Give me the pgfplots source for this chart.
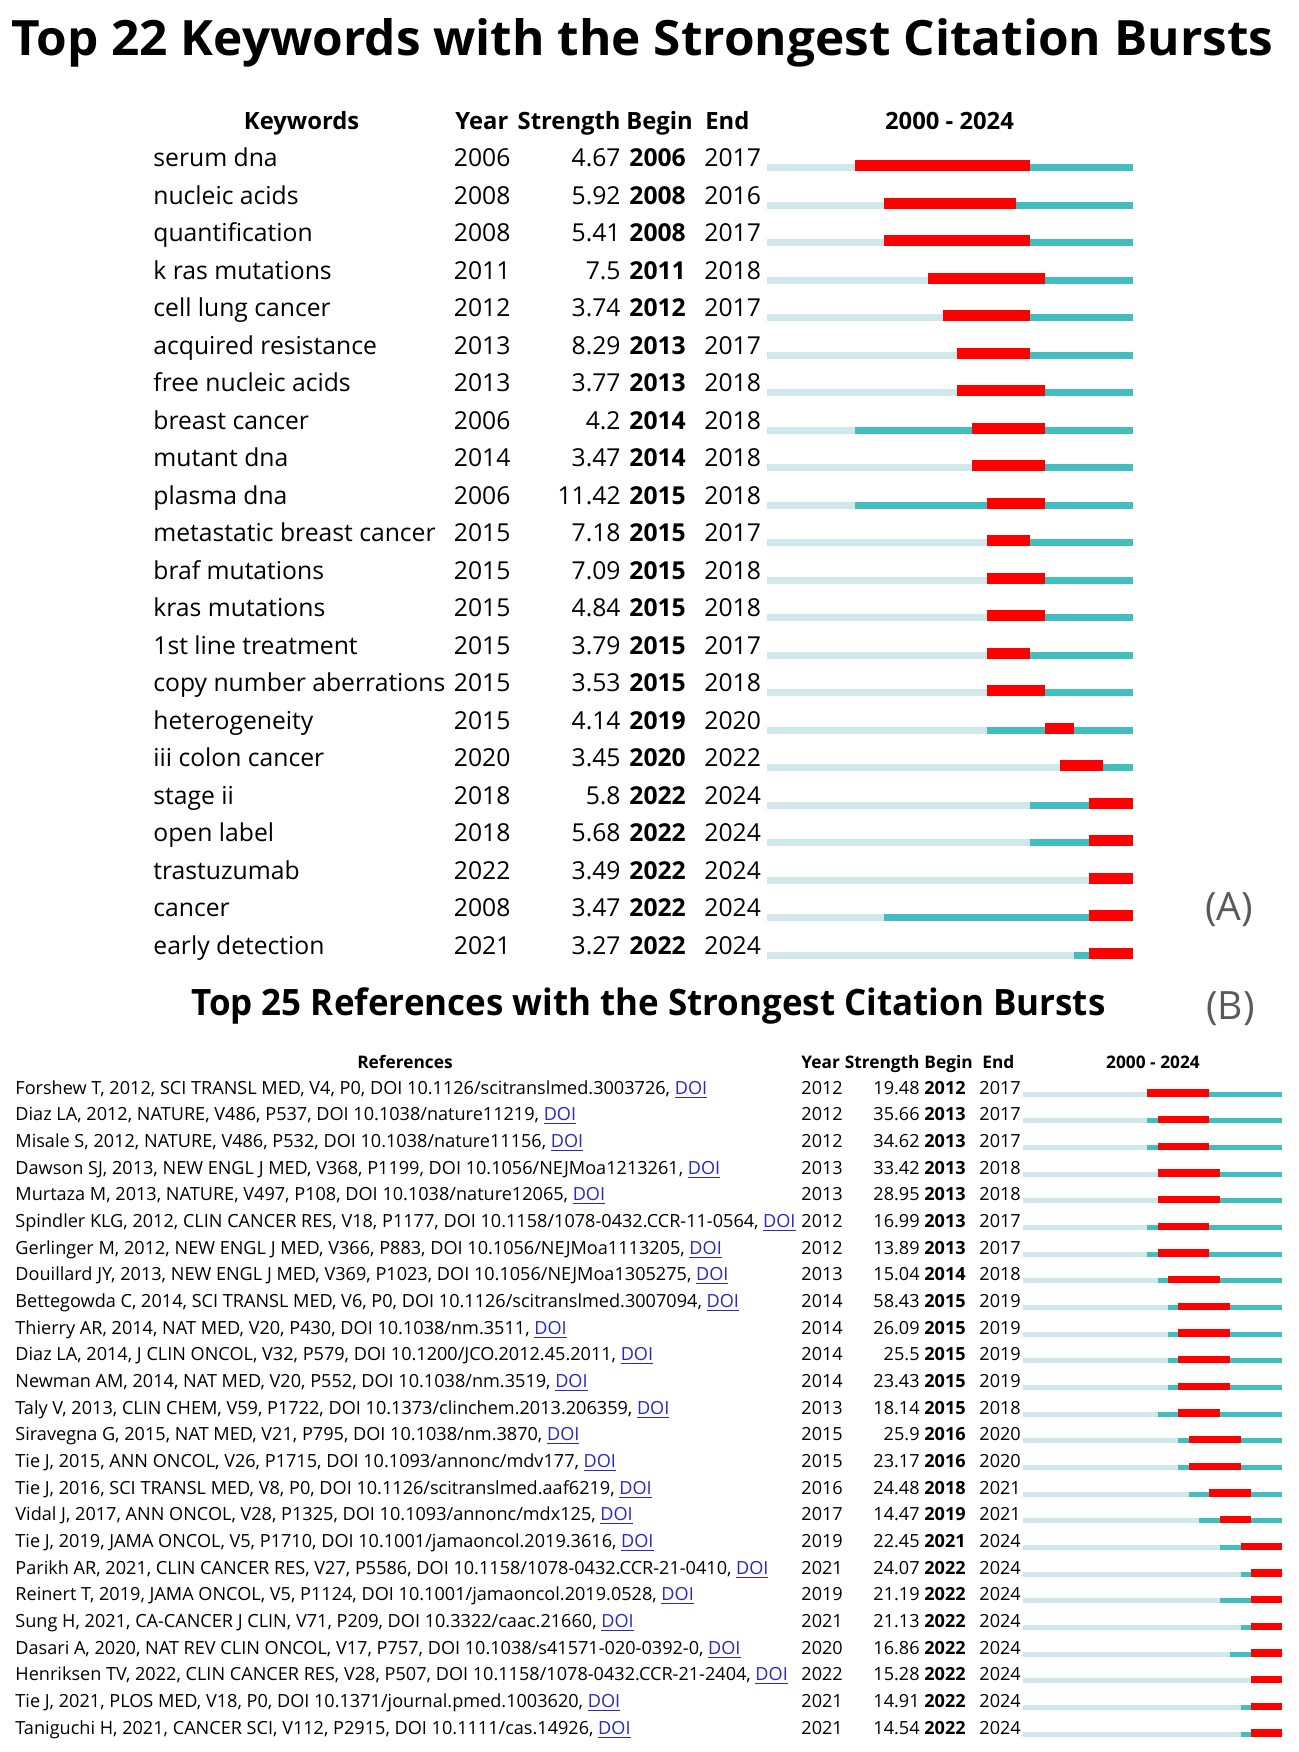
\documentclass[border=0pt]{standalone}
\usepackage{graphicx}
\usepackage{pgfplots}
\pgfplotsset{compat=1.18}
\usepackage{pgfplotstable}
\usepackage{fontspec}
\setmainfont{Open Sans}
\definecolor{lightc}{RGB}{208,232,234}
\definecolor{tealc}{RGB}{66,190,190}
\definecolor{redc}{RGB}{255,0,0}
\definecolor{doiblue}{RGB}{40,40,200}
\definecolor{labgray}{RGB}{90,90,90}

\pgfplotstableread[col sep=comma]{
Keyword,Year,Strength,Begin,End
serum dna,2006,4.67,2006,2017
nucleic acids,2008,5.92,2008,2016
quantification,2008,5.41,2008,2017
k ras mutations,2011,7.5,2011,2018
cell lung cancer,2012,3.74,2012,2017
acquired resistance,2013,8.29,2013,2017
free nucleic acids,2013,3.77,2013,2018
breast cancer,2006,4.2,2014,2018
mutant dna,2014,3.47,2014,2018
plasma dna,2006,11.42,2015,2018
metastatic breast cancer,2015,7.18,2015,2017
braf mutations,2015,7.09,2015,2018
kras mutations,2015,4.84,2015,2018
1st line treatment,2015,3.79,2015,2017
copy number aberrations,2015,3.53,2015,2018
heterogeneity,2015,4.14,2019,2020
iii colon cancer,2020,3.45,2020,2022
stage ii,2018,5.8,2022,2024
open label,2018,5.68,2022,2024
trastuzumab,2022,3.49,2022,2024
cancer,2008,3.47,2022,2024
early detection,2021,3.27,2022,2024
}\dataA

\pgfplotstableread[col sep=semicolon]{
Ref;Year;Strength;Begin;End
Forshew T, 2012, SCI TRANSL MED, V4, P0, DOI 10.1126/scitranslmed.3003726;2012;19.48;2012;2017
Diaz LA, 2012, NATURE, V486, P537, DOI 10.1038/nature11219;2012;35.66;2013;2017
Misale S, 2012, NATURE, V486, P532, DOI 10.1038/nature11156;2012;34.62;2013;2017
Dawson SJ, 2013, NEW ENGL J MED, V368, P1199, DOI 10.1056/NEJMoa1213261;2013;33.42;2013;2018
Murtaza M, 2013, NATURE, V497, P108, DOI 10.1038/nature12065;2013;28.95;2013;2018
Spindler KLG, 2012, CLIN CANCER RES, V18, P1177, DOI 10.1158/1078-0432.CCR-11-0564;2012;16.99;2013;2017
Gerlinger M, 2012, NEW ENGL J MED, V366, P883, DOI 10.1056/NEJMoa1113205;2012;13.89;2013;2017
Douillard JY, 2013, NEW ENGL J MED, V369, P1023, DOI 10.1056/NEJMoa1305275;2013;15.04;2014;2018
Bettegowda C, 2014, SCI TRANSL MED, V6, P0, DOI 10.1126/scitranslmed.3007094;2014;58.43;2015;2019
Thierry AR, 2014, NAT MED, V20, P430, DOI 10.1038/nm.3511;2014;26.09;2015;2019
Diaz LA, 2014, J CLIN ONCOL, V32, P579, DOI 10.1200/JCO.2012.45.2011;2014;25.5;2015;2019
Newman AM, 2014, NAT MED, V20, P552, DOI 10.1038/nm.3519;2014;23.43;2015;2019
Taly V, 2013, CLIN CHEM, V59, P1722, DOI 10.1373/clinchem.2013.206359;2013;18.14;2015;2018
Siravegna G, 2015, NAT MED, V21, P795, DOI 10.1038/nm.3870;2015;25.9;2016;2020
Tie J, 2015, ANN ONCOL, V26, P1715, DOI 10.1093/annonc/mdv177;2015;23.17;2016;2020
Tie J, 2016, SCI TRANSL MED, V8, P0, DOI 10.1126/scitranslmed.aaf6219;2016;24.48;2018;2021
Vidal J, 2017, ANN ONCOL, V28, P1325, DOI 10.1093/annonc/mdx125;2017;14.47;2019;2021
Tie J, 2019, JAMA ONCOL, V5, P1710, DOI 10.1001/jamaoncol.2019.3616;2019;22.45;2021;2024
Parikh AR, 2021, CLIN CANCER RES, V27, P5586, DOI 10.1158/1078-0432.CCR-21-0410;2021;24.07;2022;2024
Reinert T, 2019, JAMA ONCOL, V5, P1124, DOI 10.1001/jamaoncol.2019.0528;2019;21.19;2022;2024
Sung H, 2021, CA-CANCER J CLIN, V71, P209, DOI 10.3322/caac.21660;2021;21.13;2022;2024
Dasari A, 2020, NAT REV CLIN ONCOL, V17, P757, DOI 10.1038/s41571-020-0392-0;2020;16.86;2022;2024
Henriksen TV, 2022, CLIN CANCER RES, V28, P507, DOI 10.1158/1078-0432.CCR-21-2404;2022;15.28;2022;2024
Tie J, 2021, PLOS MED, V18, P0, DOI 10.1371/journal.pmed.1003620;2021;14.91;2022;2024
Taniguchi H, 2021, CANCER SCI, V112, P2915, DOI 10.1111/cas.14926;2021;14.54;2022;2024
}\dataB

\newcommand{\fa}{\fontsize{12.35}{14}\selectfont}
\newcommand{\fb}{\fontsize{9.05}{10.5}\selectfont}
\newcommand{\fah}{\fontsize{11.9}{14}\selectfont}
\newcommand{\fbh}{\fontsize{8.65}{10.5}\selectfont}
% pixel (of the 1299 px wide reference) -> year, for each panel
\newcommand{\pxA}[1]{2000+(#1-767.4)/14.608}
\newcommand{\pxB}[1]{2000+(#1-1023)/10.36}
\pgfplotsset{
  seg/.style 2 args={only marks, mark=*, mark size=0pt,
    mark options={draw=none, fill=none},
    error bars/.cd, x dir=plus, x explicit, error mark=none,
    error bar style={draw=#1, line width=#2, line cap=butt}},
  txt/.style 2 args={only marks, mark=none, nodes near coords, point meta=explicit symbolic,
    nodes near coords style={anchor=#1, inner sep=0pt, font=#2}},
}

\begin{document}
\begin{tikzpicture}
\path[fill=white] (0,0) rectangle (649.5pt,-876pt);
% ---------- titles and panel labels
\node[anchor=base west, inner sep=0pt] at (11*0.5pt,-55*0.5pt)
  {\resizebox{631pt}{18.5pt}{\bfseries Top 22 Keywords with the Strongest Citation Bursts}};
\node[anchor=base west, inner sep=0pt] at (191*0.5pt,-1015*0.5pt)
  {\resizebox{457pt}{13.9pt}{\bfseries Top 25 References with the Strongest Citation Bursts}};
\node[anchor=base west, inner sep=0pt, text=labgray] at (1205*0.5pt,-920*0.5pt) {\fontsize{19.5}{22}\selectfont (A)};
\node[anchor=base west, inner sep=0pt, text=labgray] at (1206*0.5pt,-1019*0.5pt) {\fontsize{19.5}{22}\selectfont (B)};
% ---------- headers A
\begin{scope}[every node/.style={inner sep=0pt, font=\fah\bfseries}]
\node[anchor=base] at (301.6*0.5pt,-129*0.5pt) {Keywords};
\node[anchor=base west] at (455*0.5pt,-129*0.5pt) {Year};
\node[anchor=base east] at (621*0.5pt,-129*0.5pt) {Strength};
\node[anchor=base west] at (626*0.5pt,-129*0.5pt) {Begin};
\node[anchor=base west] at (705*0.5pt,-129*0.5pt) {End};
\node[anchor=base] at (949.5*0.5pt,-129*0.5pt) {2000 - 2024};
\end{scope}
% ---------- headers B
\begin{scope}[every node/.style={inner sep=0pt, font=\fbh\bfseries}]
\node[anchor=base] at (405*0.5pt,-1068*0.5pt) {References};
\node[anchor=base west] at (801*0.5pt,-1068*0.5pt) {Year};
\node[anchor=base east] at (920*0.5pt,-1068*0.5pt) {Strength};
\node[anchor=base west] at (924*0.5pt,-1068*0.5pt) {Begin};
\node[anchor=base west] at (982*0.5pt,-1068*0.5pt) {End};
\node[anchor=base] at (1153*0.5pt,-1068*0.5pt) {2000 - 2024};
\end{scope}

% ---------- panel A
\begin{axis}[at={(767.4*0.5pt,-166.7*0.5pt)}, anchor=north west,
  scale only axis, width=182.6pt, height=393.75pt,
  xmin=2000, xmax=2025, ymin=0, ymax=21, y dir=reverse,
  hide axis, clip=false]
\addplot[seg={lightc}{3.4pt}]
  table[x expr=2000, y expr=\coordindex+0.024, x error expr=25]{\dataA};
\addplot[seg={tealc}{3.4pt}]
  table[x=Year, y expr=\coordindex+0.024, x error expr=2025-\thisrow{Year}]{\dataA};
\addplot[seg={redc}{5.5pt}]
  table[x=Begin, y expr=\coordindex-0.032, x error expr=\thisrow{End}+1-\thisrow{Begin}]{\dataA};
\addplot[txt={base west}{\fa}]
  table[x expr={\pxA{153}}, y expr=\coordindex, meta=Keyword]{\dataA};
\addplot[txt={base west}{\fa}]
  table[x expr={\pxA{453.5}}, y expr=\coordindex, meta=Year]{\dataA};
\addplot[txt={base east}{\fa}]
  table[x expr={\pxA{621}}, y expr=\coordindex, meta=Strength]{\dataA};
\addplot[txt={base west}{\fa\bfseries}]
  table[x expr={\pxA{629}}, y expr=\coordindex, meta=Begin]{\dataA};
\addplot[txt={base west}{\fa}]
  table[x expr={\pxA{704}}, y expr=\coordindex, meta=End]{\dataA};
\end{axis}

% ---------- panel B
\begin{axis}[at={(1023*0.5pt,-1094*0.5pt)}, anchor=north west,
  scale only axis, width=129.5pt, height=320pt,
  xmin=2000, xmax=2025, ymin=0, ymax=24, y dir=reverse,
  hide axis, clip=false]
\addplot[seg={lightc}{2.5pt}]
  table[x expr=2000, y expr=\coordindex+0.0075, x error expr=25]{\dataB};
\addplot[seg={tealc}{2.5pt}]
  table[x=Year, y expr=\coordindex+0.0075, x error expr=2025-\thisrow{Year}]{\dataB};
\addplot[seg={redc}{3.7pt}]
  table[x=Begin, y expr=\coordindex-0.0375, x error expr=\thisrow{End}+1-\thisrow{Begin}]{\dataB};
\addplot[txt={base west}{\fb}, nodes near coords={\pgfplotspointmeta, \textcolor{doiblue}{\underline{DOI}}}]
  table[x expr={\pxB{15}}, y expr=\coordindex, meta=Ref]{\dataB};
\addplot[txt={base west}{\fb}]
  table[x expr={\pxB{801}}, y expr=\coordindex, meta=Year]{\dataB};
\addplot[txt={base east}{\fb}]
  table[x expr={\pxB{920}}, y expr=\coordindex, meta=Strength]{\dataB};
\addplot[txt={base west}{\fb\bfseries}]
  table[x expr={\pxB{924}}, y expr=\coordindex, meta=Begin]{\dataB};
\addplot[txt={base west}{\fb}]
  table[x expr={\pxB{979}}, y expr=\coordindex, meta=End]{\dataB};
\end{axis}
\end{tikzpicture}
\end{document}
